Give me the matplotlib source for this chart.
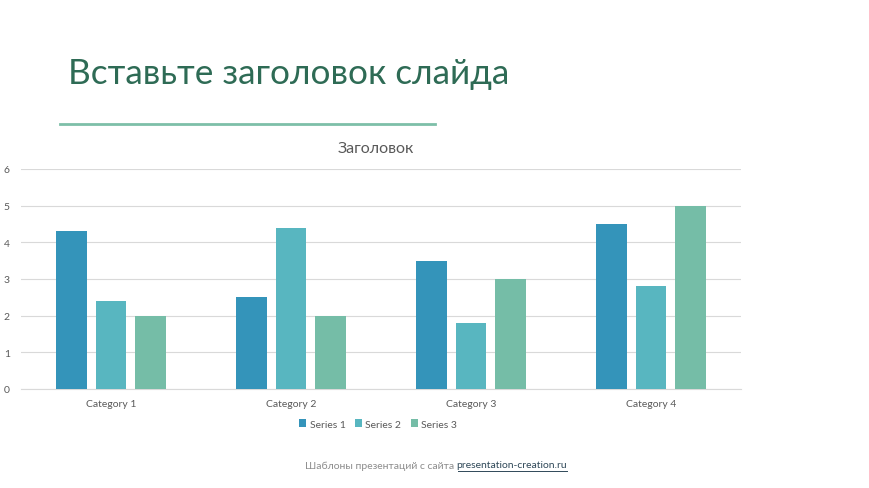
import matplotlib
matplotlib.use("Agg")
import matplotlib.pyplot as plt
import numpy as np
from matplotlib.lines import Line2D

categories = ["Category 1", "Category 2", "Category 3", "Category 4"]
series_names = ["Series 1", "Series 2", "Series 3"]
series1 = [4.3, 2.5, 3.5, 4.5]
series2 = [2.4, 4.4, 1.8, 2.8]
series3 = [2, 2, 3, 5]
yticks = [0, 1, 2, 3, 4, 5, 6]

colors = ["#3494BA", "#58B6C0", "#75BDA7"]
FONT = ["Lato", "DejaVu Sans"]
plt.rcParams['font.family'] = FONT

W, H = 870, 489
fig = plt.figure(figsize=(W / 100, H / 100), dpi=100)
fig.patch.set_facecolor("white")

# slide title
fig.text(68 / W, 1 - 74 / H, "Вставьте заголовок слайда", fontsize=25.3,
         color="#2E6B55", ha="left", va="center")
fig.add_artist(Line2D([60 / W, 435 / W], [1 - 125 / H, 1 - 125 / H],
                      transform=fig.transFigure, color="#7DBFA8", lw=2))

ax = fig.add_axes([21 / W, 1 - 390 / H, 720 / W, 220 / H])
x = np.arange(len(categories))
bw = 0.172
gap = 0.222
for i, vals in enumerate([series1, series2, series3]):
    ax.bar(x + (i - 1) * gap, vals, width=bw, color=colors[i], label=series_names[i], zorder=3)

ax.set_xlim(-0.5, 3.5)
ax.set_ylim(0, 6)
ax.set_yticks(yticks)
ax.set_xticks(x)
ax.set_xticklabels(categories)
ax.tick_params(axis="both", length=0, labelsize=7.5, colors="#595959")
ax.tick_params(axis="y", pad=8)
ax.tick_params(axis="x", pad=7)
ax.grid(axis="y", color="#D9D9D9", lw=0.8, zorder=0)
for s in ["top", "right", "left"]:
    ax.spines[s].set_visible(False)
ax.spines["bottom"].set_color("#D9D9D9")
ax.spines["bottom"].set_linewidth(0.8)
ax.set_title("Заголовок", fontsize=11.5, color="#595959", pad=12, x=(376 - 21) / 720)

leg = fig.legend(loc="center", bbox_to_anchor=(378 / W, 1 - 425 / H), ncol=3, frameon=False,
                 fontsize=7.5, handlelength=0.7, handleheight=0.7, handletextpad=0.3,
                 columnspacing=0.9, labelcolor="#595959")

# footer
t1 = fig.text(0, 1 - 466 / H, "Шаблоны презентаций с сайта ", fontsize=7.5, color="#8C8C8C",
              ha="left", va="center")
t2 = fig.text(0, 1 - 466 / H, "presentation-creation.ru", fontsize=7.5, color="#2F4858",
              ha="left", va="center")
fig.canvas.draw()
r = fig.canvas.get_renderer()
w1 = t1.get_window_extent(r).width
w2 = t2.get_window_extent(r).width
start = 436 - (w1 + w2) / 2
t1.set_x(start / W)
t2.set_x((start + w1) / W)
yline = (1 - 466 / H) - 6 / H
fig.add_artist(Line2D([(start + w1 + 1) / W, (start + w1 + w2) / W], [yline, yline],
                      transform=fig.transFigure, color="#2F4858", lw=0.7))

fig.savefig("out.png", dpi=100, facecolor="white")
